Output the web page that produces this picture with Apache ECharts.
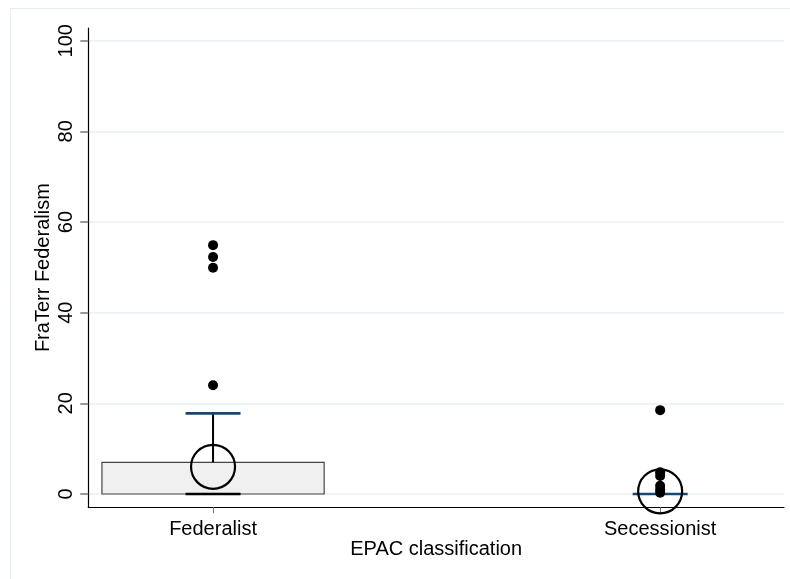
<!DOCTYPE html>
<html>
<head>
<meta charset="utf-8">
<script src="https://cdn.jsdelivr.net/npm/echarts@6/dist/echarts.min.js"></script>
<style>
html,body{margin:0;padding:0;background:#fff;}
#chart{width:790px;height:579px;}
</style>
</head>
<body>
<div id="chart"></div>
<script>
// ---- data ----
var categories = ['Federalist', 'Secessionist'];
var positions = [1, 2];
var q1 = [0, 0];
var q3 = [7.0, 0];
var median = [0, 0];
var lowerAdj = [0, 0];
var upperAdj = [17.8, 0];
var means = [6.0, 0.6];
var outliersFederalist = [24.0, 49.9, 52.3, 54.9];
var outliersSecessionist = [18.5, 4.8, 4.0, 1.8, 1.0, 0.3];
var yTicks = [0, 20, 40, 60, 80, 100];

// ---- build ----
var boxData = positions.map(function (p, i) {
  return [p, q1[i], q3[i], median[i], lowerAdj[i], upperAdj[i]];
});
var outlierData = outliersFederalist.map(function (v) { return [positions[0], v]; })
  .concat(outliersSecessionist.map(function (v) { return [positions[1], v]; }));
var meanData = positions.map(function (p, i) { return [p, means[i]]; });

var FONT = '"Liberation Sans", Arial, Helvetica, sans-serif';
var NAVY = '#1a476f';
var BOXW = 0.497, CAPW = 0.123;
var FS = 20;

var chart = echarts.init(document.getElementById('chart'), null, {renderer: 'canvas'});
chart.setOption({
  animation: false,
  backgroundColor: '#ffffff',
  textStyle: {fontFamily: FONT},
  graphic: [{
    type: 'rect', z: -10, silent: true,
    shape: {x: 10.5, y: 8.5, width: 800, height: 600},
    style: {fill: '#ffffff', stroke: '#e4ecef', lineWidth: 1}
  }],
  grid: {left: 88.3, right: 6, top: 28, bottom: 71.7},
  xAxis: {
    type: 'value', min: 0.721, max: 2.277,
    axisLine: {show: true, onZero: false, lineStyle: {color: '#000', width: 1.2}},
    axisTick: {show: true, customValues: positions, length: 6, lineStyle: {color: '#777', width: 1}},
    axisLabel: {show: true, customValues: positions, margin: 12, fontSize: FS, color: '#000', fontFamily: FONT,
      formatter: function (v) { var i = positions.indexOf(Math.round(v)); return i >= 0 ? categories[i] : ''; }},
    splitLine: {show: false},
    name: 'EPAC classification', nameLocation: 'middle', nameGap: 32, nameMoveOverlap: false,
    nameTextStyle: {fontSize: FS, color: '#000', fontFamily: FONT}
  },
  yAxis: {
    type: 'value', min: -2.93, max: 102.8,
    axisLine: {show: true, onZero: false, lineStyle: {color: '#000', width: 1.2}},
    axisTick: {show: true, customValues: yTicks, length: 8, lineStyle: {color: '#777', width: 1.5}},
    axisLabel: {show: true, customValues: yTicks, rotate: 90, margin: 12, fontSize: FS, color: '#000', fontFamily: FONT},
    splitLine: {show: false},
    name: 'FraTerr Federalism', nameLocation: 'middle', nameGap: 35, nameRotate: 90, nameMoveOverlap: false,
    nameTextStyle: {fontSize: FS, color: '#000', fontFamily: FONT}
  },
  series: [
    {
      type: 'scatter', data: [], z: 0, silent: true,
      markLine: {
        z: 0, silent: true, symbol: ['none', 'none'], animation: false,
        label: {show: false},
        lineStyle: {color: '#e9f0f2', width: 1.5, type: 'solid'},
        data: yTicks.map(function (t) { return {yAxis: t}; })
      }
    },
    {
      type: 'custom', z: 2, silent: true,
      data: boxData,
      renderItem: function (params, api) {
        var x = api.value(0), a = api.value(1), b = api.value(2), m = api.value(3), lo = api.value(4), hi = api.value(5);
        var pL = api.coord([x - BOXW / 2, b]);
        var pR = api.coord([x + BOXW / 2, a]);
        var c = api.coord([x, m]);
        var cHi = api.coord([x, hi]);
        var cB = api.coord([x, b]);
        var capHalf = api.size([CAPW, 0])[0] / 2;
        var children = [];
        if (b > a) {
          children.push({type: 'rect', shape: {x: pL[0], y: pL[1], width: pR[0] - pL[0], height: pR[1] - pL[1]},
            style: {fill: '#f0f0f0', stroke: '#444', lineWidth: 1.2}});
        }
        if (hi > b) {
          children.push({type: 'line', shape: {x1: cB[0], y1: cB[1], x2: cHi[0], y2: cHi[1]}, style: {stroke: '#000', lineWidth: 2}});
          children.push({type: 'line', shape: {x1: cHi[0] - capHalf, y1: cHi[1], x2: cHi[0] + capHalf, y2: cHi[1]}, style: {stroke: NAVY, lineWidth: 2.6}});
        }
        children.push({type: 'line', shape: {x1: c[0] - capHalf, y1: c[1], x2: c[0] + capHalf, y2: c[1]},
          style: {stroke: b > a ? '#000' : NAVY, lineWidth: 2.4}});
        return {type: 'group', children: children};
      }
    },
    {
      type: 'scatter', z: 3, silent: true,
      data: outlierData, symbol: 'circle', symbolSize: 10,
      itemStyle: {color: '#000', opacity: 1}
    },
    {
      type: 'scatter', z: 4, silent: true,
      data: meanData, symbol: 'circle', symbolSize: 44,
      itemStyle: {color: 'rgba(0,0,0,0)', borderColor: '#000', borderWidth: 2.2, opacity: 1}
    }
  ]
});
</script>
</body>
</html>
